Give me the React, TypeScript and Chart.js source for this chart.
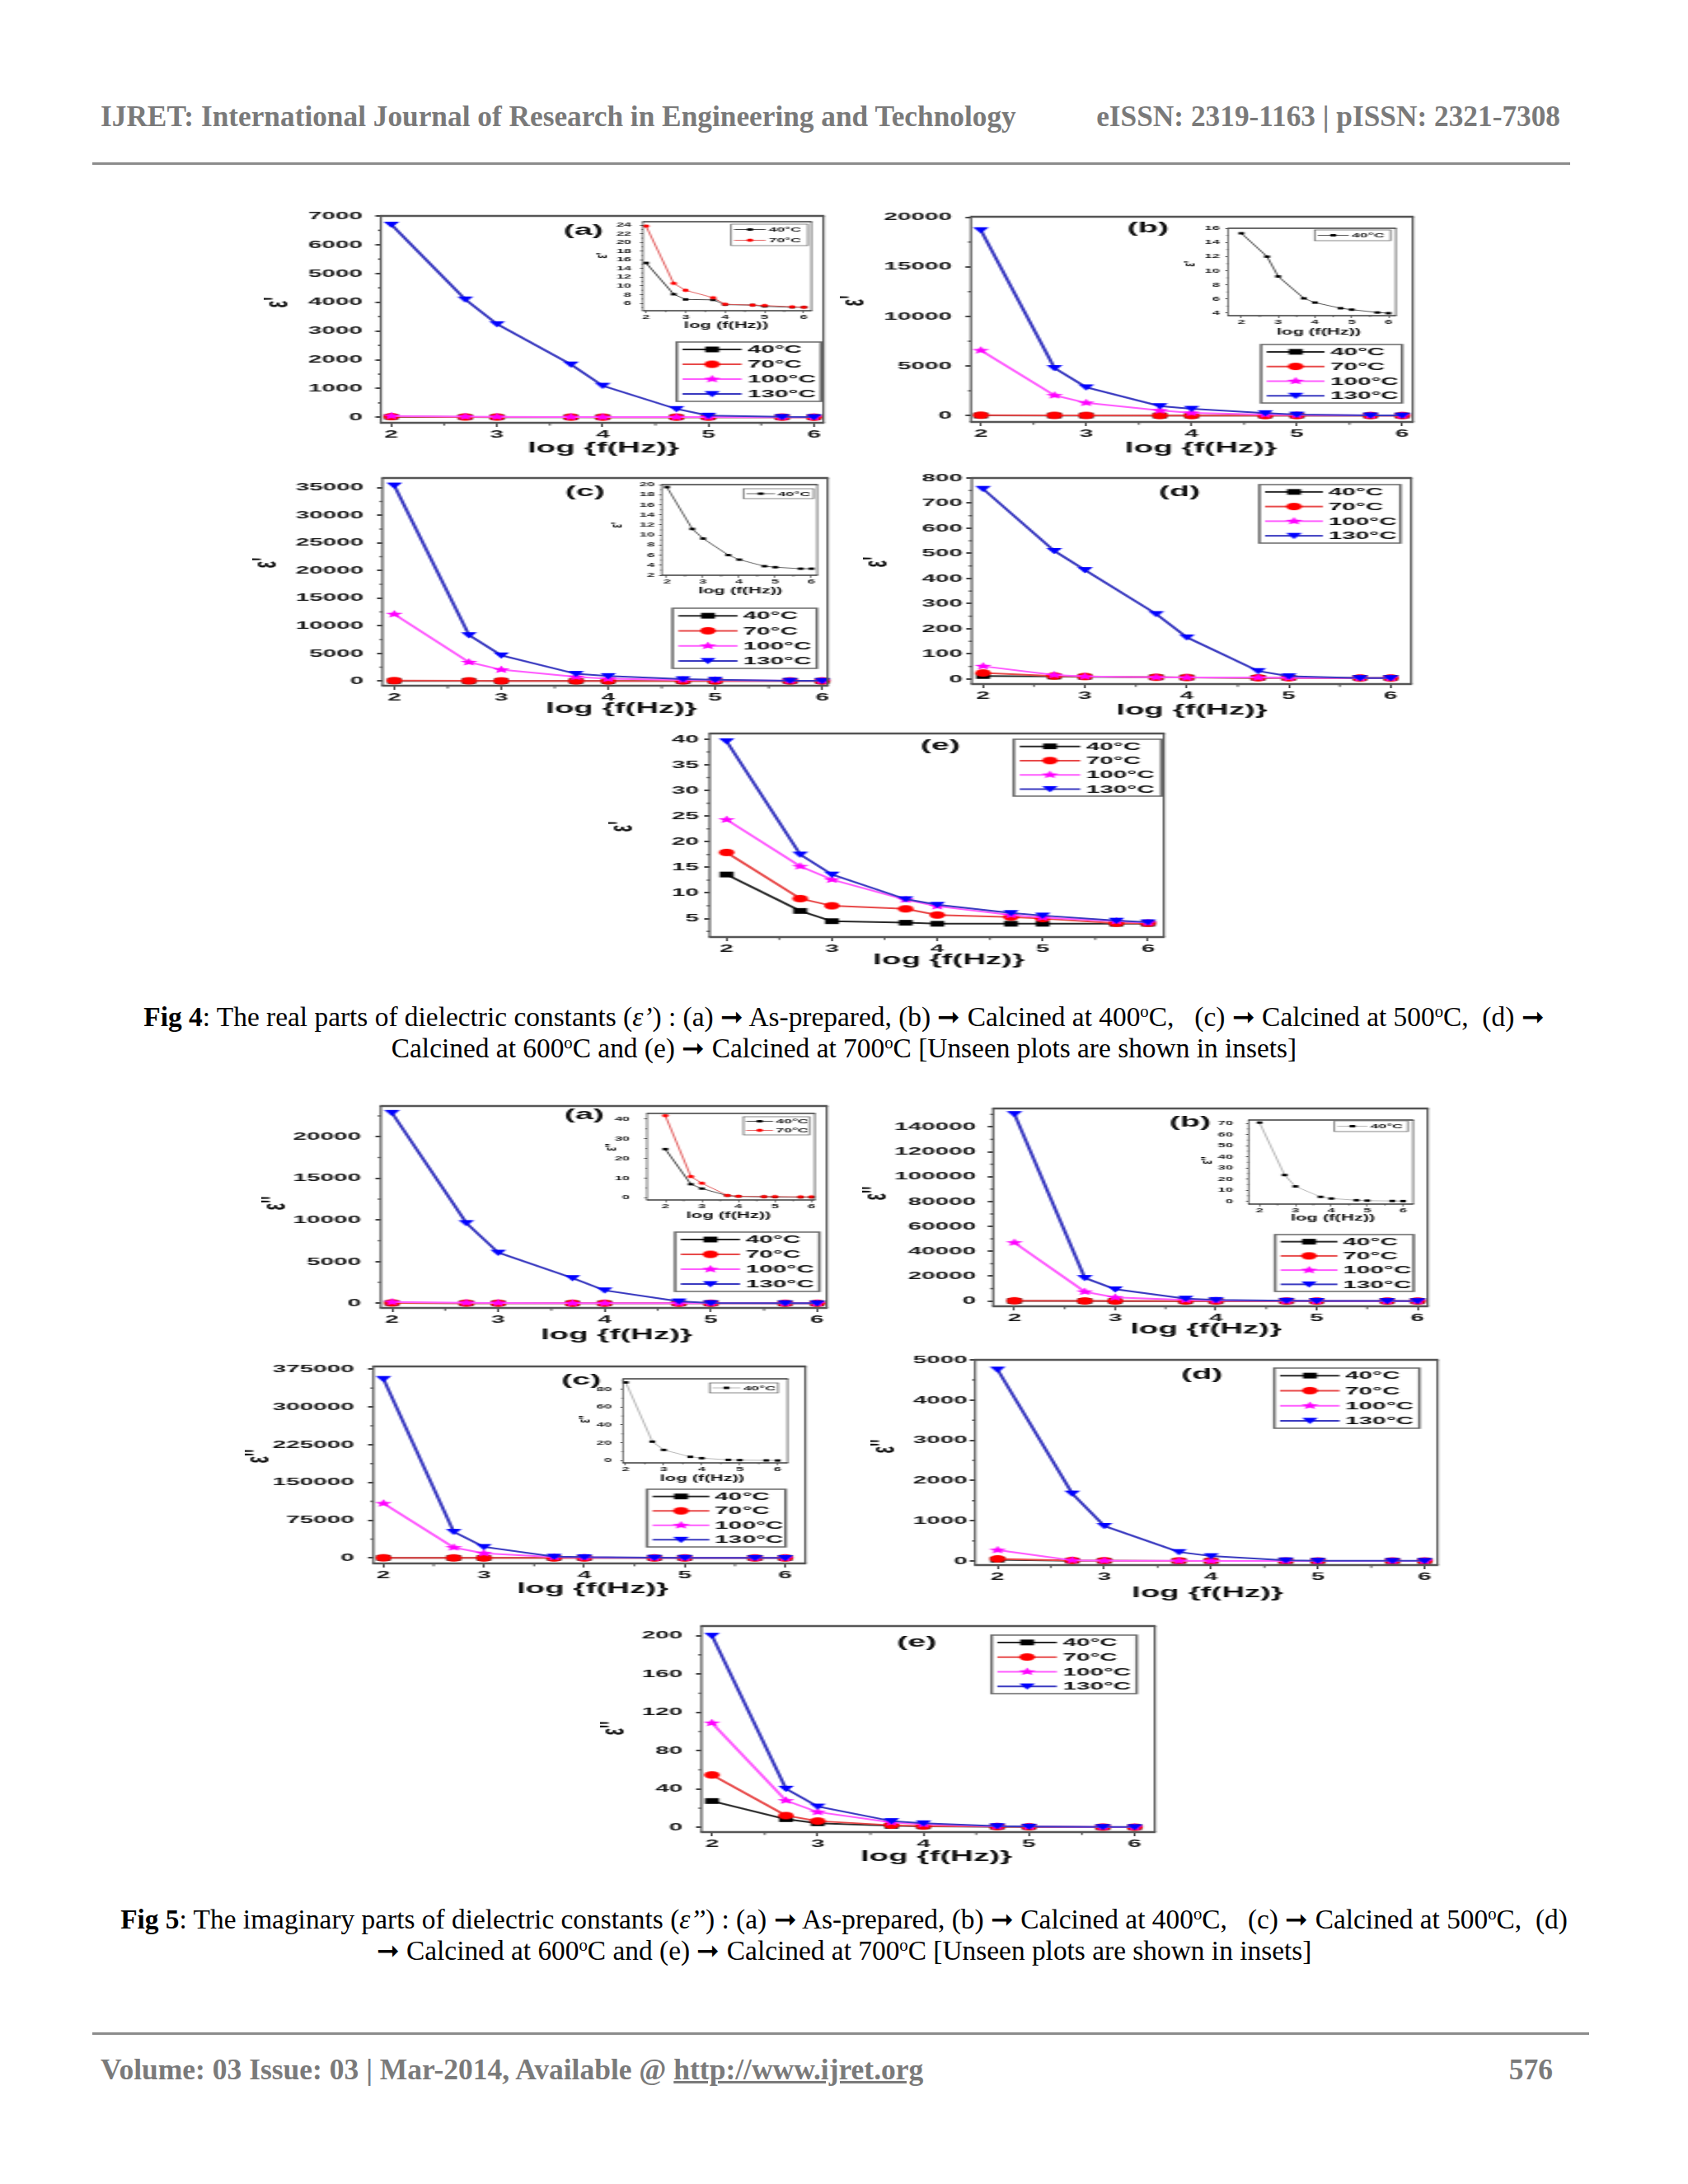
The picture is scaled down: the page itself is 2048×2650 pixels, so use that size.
import React, { useEffect, useRef } from "react";
import { Chart, registerables } from "chart.js";

Chart.register(...registerables);

// horizontal stretch of the figure images on the page
const ST = 2.2;
const FONT = "'Liberation Sans', Arial, sans-serif";
const SERIF = "'Liberation Serif', 'Times New Roman', serif";

// ---------- shared axes ----------
const LOG_F = [2, 2.699, 3, 3.699, 4, 4.699, 5, 5.699, 6];
const TEMPS = ["40°C", "70°C", "100°C", "130°C"];
const X_TICKS = [2, 3, 4, 5, 6];
const X_MINOR = [2.5, 3.5, 4.5, 5.5];

// ---------- Fig 4 : real part ε' ----------
const F4A_40 = [15.3, 8.1, 6.9, 6.8, 5.7, 5.6, 5.3, 5.1, 5.1];
const F4A_70 = [23.8, 10.6, 9.0, 7.3, 5.8, 5.6, 5.5, 5.2, 5.1];
const F4A_100 = [48, 25, 19, 13, 10, 8, 7, 6, 6];
const F4A_130 = [6700, 4100, 3240, 1840, 1100, 290, 60, 15, 10];

const F4B_40 = [15.3, 12.0, 9.2, 6.1, 5.5, 4.7, 4.5, 4.1, 4.0];
const F4B_70 = [45, 28, 20, 12, 9, 7, 6, 5, 5];
const F4B_100 = [6580, 2040, 1290, 520, 280, 110, 60, 20, 10];
const F4B_130 = [18700, 4800, 2860, 960, 690, 250, 110, 25, 15];

const F4C_40 = [19.5, 11.2, 9.3, 6.0, 5.1, 3.8, 3.6, 3.3, 3.3];
const F4C_70 = [70, 35, 25, 14, 11, 8, 7, 6, 6];
const F4C_100 = [12100, 3400, 2050, 750, 400, 200, 150, 40, 20];
const F4C_130 = [35400, 8300, 4650, 1300, 900, 350, 250, 50, 30];

const F4D_40 = [12, 10, 9, 7, 6, 5, 5, 4, 4];
const F4D_70 = [24, 12, 10, 7, 6, 5, 5, 4, 4];
const F4D_100 = [51, 16, 10, 7, 6, 6, 5, 4, 4];
const F4D_130 = [757, 510, 434, 259, 166, 32, 11, 4, 4];

const F4E_40 = [13.6, 6.5, 4.5, 4.2, 4.0, 4.0, 4.0, 4.0, 4.0];
const F4E_70 = [17.9, 8.9, 7.5, 6.9, 5.7, 5.3, 5.0, 4.1, 4.1];
const F4E_100 = [24.3, 15.2, 12.6, 8.7, 7.4, 5.7, 5.2, 4.5, 4.2];
const F4E_130 = [39.6, 17.5, 13.6, 8.8, 7.7, 6.1, 5.6, 4.6, 4.3];

// ---------- Fig 5 : imaginary part ε'' ----------
const F5A_40 = [24.7, 6.9, 4.7, 1.1, 0.7, 0.5, 0.4, 0.3, 0.3];
const F5A_70 = [41.7, 10.8, 7.4, 1.2, 0.8, 0.6, 0.6, 0.5, 0.5];
const F5A_100 = [150, 60, 40, 15, 10, 4, 3, 2, 1];
const F5A_130 = [22860, 9640, 6080, 3030, 1550, 230, 30, 10, 5];

const F5B_40 = [70.7, 23.6, 13.4, 4.0, 2.5, 1.0, 0.6, 0.3, 0.2];
const F5B_70 = [250, 80, 45, 12, 8, 3, 2, 1, 1];
const F5B_100 = [47000, 7500, 2900, 900, 400, 100, 60, 20, 10];
const F5B_130 = [150400, 18600, 9500, 2000, 900, 300, 150, 30, 20];

const F5C_40 = [87.7, 21.3, 12.0, 4.3, 2.8, 0.9, 0.6, 0.3, 0.2];
const F5C_70 = [300, 90, 50, 15, 10, 3, 2, 1, 1];
const F5C_100 = [108400, 20800, 9300, 1600, 800, 200, 100, 20, 10];
const F5C_130 = [355800, 52000, 21900, 2700, 1600, 500, 300, 50, 30];

const F5D_40 = [34, 10, 6, 3, 2, 1, 1, 1, 1];
const F5D_70 = [55, 15, 8, 4, 3, 1, 1, 1, 1];
const F5D_100 = [273, 20, 10, 5, 3, 1, 1, 1, 1];
const F5D_130 = [4760, 1680, 873, 225, 123, 20, 10, 5, 5];

const F5E_40 = [27.5, 8.6, 4.3, 1.7, 1.2, 0.6, 0.5, 0.2, 0.2];
const F5E_70 = [54.7, 12.3, 6.6, 2.3, 1.4, 0.8, 0.6, 0.3, 0.2];
const F5E_100 = [108.9, 28, 16, 5.2, 3.2, 1.2, 0.8, 0.4, 0.3];
const F5E_130 = [200, 40.4, 21.8, 6.6, 4.3, 1.4, 0.9, 0.5, 0.4];

// ---------- tick labels ----------
const F4A_Y_TICKS = [0, 1000, 2000, 3000, 4000, 5000, 6000, 7000];
const F4B_Y_TICKS = [0, 5000, 10000, 15000, 20000];
const F4C_Y_TICKS = [0, 5000, 10000, 15000, 20000, 25000, 30000, 35000];
const F4D_Y_TICKS = [0, 100, 200, 300, 400, 500, 600, 700, 800];
const F4E_Y_TICKS = [5, 10, 15, 20, 25, 30, 35, 40];
const F4A_IN_Y_TICKS = [6, 8, 10, 12, 14, 16, 18, 20, 22, 24];
const F4B_IN_Y_TICKS = [4, 6, 8, 10, 12, 14, 16];
const F4C_IN_Y_TICKS = [2, 4, 6, 8, 10, 12, 14, 16, 18, 20];
const F5A_Y_TICKS = [0, 5000, 10000, 15000, 20000];
const F5B_Y_TICKS = [0, 20000, 40000, 60000, 80000, 100000, 120000, 140000];
const F5C_Y_TICKS = [0, 75000, 150000, 225000, 300000, 375000];
const F5D_Y_TICKS = [0, 1000, 2000, 3000, 4000, 5000];
const F5E_Y_TICKS = [0, 40, 80, 120, 160, 200];
const F5A_IN_Y_TICKS = [0, 10, 20, 30, 40];
const F5B_IN_Y_TICKS = [0, 10, 20, 30, 40, 50, 60, 70];
const F5C_IN_Y_TICKS = [0, 20, 40, 60, 80];

// ---------- styling ----------
const MK = { k: "#000000", r: "#ff0000", m: "#ff00ff", b: "#0000ff" };
const LN = { k: "#2a2a2a", r: "#e84a4a", m: "#ff5cff", b: "#3a3ac0" };

type Series = { label: string; data: number[]; kind: string; color: string; line: string };
type Box = [number, number, number, number];
type PanelDef = {
  id: string;
  inset?: boolean;
  box: Box;
  x: [number, number];
  y: [number, number];
  yTicks: number[];
  series: Series[];
  legend?: Box;
  label?: [string, number, number];
  yTitle: [string, number, number];
  xTitle: [string, number, number];
  yGap: number;
};

function four(d40: number[], d70: number[], d100: number[], d130: number[]): Series[] {
  return [
    { label: TEMPS[0], data: d40, kind: "rect", color: MK.k, line: LN.k },
    { label: TEMPS[1], data: d70, kind: "circle", color: MK.r, line: LN.r },
    { label: TEMPS[2], data: d100, kind: "star", color: MK.m, line: LN.m },
    { label: TEMPS[3], data: d130, kind: "tri", color: MK.b, line: LN.b },
  ];
}
function insetOne(d40: number[], line: string): Series[] {
  return [{ label: TEMPS[0], data: d40, kind: "rect", color: MK.k, line }];
}
function insetTwo(d40: number[], d70: number[]): Series[] {
  return [
    { label: TEMPS[0], data: d40, kind: "rect", color: MK.k, line: "#333333" },
    { label: TEMPS[1], data: d70, kind: "circle", color: MK.r, line: "#e05050" },
  ];
}

const EPS1 = "ε'";
const EPS2 = "ε''";
const XT = "log {f(Hz)}";
const XTI = "log (f(Hz))";

const MAIN_PANELS: PanelDef[] = [
  { id: "f4a", box: [462, 262, 999, 513], x: [1.9, 6.09], y: [-190, 7000], yTicks: F4A_Y_TICKS,
    series: four(F4A_40, F4A_70, F4A_100, F4A_130), legend: [821, 415, 996, 487],
    label: ["(a)", 708, 280], yTitle: [EPS1, 338, 367], xTitle: [XT, 732, 544], yGap: 22 },
  { id: "f4b", box: [1178, 263, 1714, 512], x: [1.906, 6.1], y: [-640, 20050], yTicks: F4B_Y_TICKS,
    series: four(F4B_40, F4B_70, F4B_100, F4B_130), legend: [1530, 418, 1701, 489],
    label: ["(b)", 1393, 277], yTitle: [EPS1, 1037, 365], xTitle: [XT, 1457, 544], yGap: 23 },
  { id: "f4c", box: [464, 580, 1004, 832], x: [1.89, 6.05], y: [-850, 36750], yTicks: F4C_Y_TICKS,
    series: four(F4C_40, F4C_70, F4C_100, F4C_130), legend: [816, 738, 991, 811],
    label: ["(c)", 710, 597], yTitle: [EPS1, 324, 683], xTitle: [XT, 754, 860], yGap: 23 },
  { id: "f4d", box: [1179, 580, 1712, 830], x: [1.89, 6.2], y: [-20, 800], yTicks: F4D_Y_TICKS,
    series: four(F4D_40, F4D_70, F4D_100, F4D_130), legend: [1528, 588, 1699, 659],
    label: ["(d)", 1431, 597], yTitle: [EPS1, 1065, 682], xTitle: [XT, 1446, 862], yGap: 11 },
  { id: "f4e", box: [861, 890, 1412, 1137], x: [1.84, 6.15], y: [1.4, 41.1], yTicks: F4E_Y_TICKS,
    series: four(F4E_40, F4E_70, F4E_100, F4E_130), legend: [1230, 897, 1409, 966],
    label: ["(e)", 1141, 905], yTitle: [EPS1, 756, 1003], xTitle: [XT, 1151, 1165], yGap: 13 },
  { id: "f5a", box: [462, 1342, 1003, 1587], x: [1.895, 6.09], y: [-560, 23680], yTicks: F5A_Y_TICKS,
    series: four(F5A_40, F5A_70, F5A_100, F5A_130), legend: [819, 1495, 994, 1567],
    label: ["(a)", 709, 1353], yTitle: [EPS2, 335, 1460], xTitle: [XT, 748, 1620], yGap: 24 },
  { id: "f5b", box: [1205, 1345, 1732, 1585], x: [1.79, 6.1], y: [-4200, 154800], yTicks: F5B_Y_TICKS,
    series: four(F5B_40, F5B_70, F5B_100, F5B_130), legend: [1547, 1498, 1715, 1567],
    label: ["(b)", 1444, 1362], yTitle: [EPS2, 1064, 1448], xTitle: [XT, 1463, 1613], yGap: 21 },
  { id: "f5c", box: [453, 1658, 977, 1897], x: [1.9, 6.2], y: [-10900, 380500], yTicks: F5C_Y_TICKS,
    series: four(F5C_40, F5C_70, F5C_100, F5C_130), legend: [785, 1807, 953, 1877],
    label: ["(c)", 705, 1675], yTitle: [EPS2, 315, 1767], xTitle: [XT, 719, 1928], yGap: 23 },
  { id: "f5d", box: [1183, 1650, 1744, 1899], x: [1.79, 6.12], y: [-100, 5000], yTicks: F5D_Y_TICKS,
    series: four(F5D_40, F5D_70, F5D_100, F5D_130), legend: [1546, 1660, 1722, 1733],
    label: ["(d)", 1458, 1668], yTitle: [EPS2, 1074, 1755], xTitle: [XT, 1465, 1933], yGap: 9 },
  { id: "f5e", box: [851, 1973, 1401, 2223], x: [1.9, 6.19], y: [-4.9, 210], yTicks: F5E_Y_TICKS,
    series: four(F5E_40, F5E_70, F5E_100, F5E_130), legend: [1203, 1984, 1379, 2055],
    label: ["(e)", 1112, 1993], yTitle: [EPS2, 746, 2097], xTitle: [XT, 1136, 2253], yGap: 23 },
];

const INSET_PANELS: PanelDef[] = [
  { id: "f4a-in", inset: true, box: [780, 269, 985, 377], x: [1.92, 6.19], y: [4.3, 24.8], yTicks: F4A_IN_Y_TICKS,
    series: insetTwo(F4A_40, F4A_70), legend: [887, 272, 980, 298],
    yTitle: [EPS1, 731, 310], xTitle: [XTI, 881, 395], yGap: 14 },
  { id: "f4b-in", inset: true, box: [1490, 277, 1694, 383], x: [1.64, 6.2], y: [3.65, 16.0], yTicks: F4B_IN_Y_TICKS,
    series: insetOne(F4B_40, "#444444"), legend: [1595, 279, 1687, 292],
    yTitle: [EPS1, 1444, 320], xTitle: [XTI, 1600, 403], yGap: 10 },
  { id: "f4c-in", inset: true, box: [803, 588, 992, 698], x: [1.86, 6.16], y: [2, 20], yTicks: F4C_IN_Y_TICKS,
    series: insetOne(F4C_40, "#555555"), legend: [902, 593, 987, 605],
    yTitle: [EPS1, 749, 637], xTitle: [XTI, 898, 717], yGap: 9 },
  { id: "f5a-in", inset: true, box: [785, 1351, 989, 1456], x: [1.5, 6.09], y: [-1.1, 42.8], yTicks: F5A_IN_Y_TICKS,
    series: insetTwo(F5A_40, F5A_70), legend: [902, 1355, 982, 1377],
    yTitle: [EPS2, 742, 1392], xTitle: [XTI, 884, 1475], yGap: 21 },
  { id: "f5b-in", inset: true, box: [1515, 1359, 1715, 1461], x: [1.7, 6.28], y: [-2.5, 73], yTicks: F5B_IN_Y_TICKS,
    series: insetOne(F5B_40, "#b0b0b0"), legend: [1619, 1360, 1708, 1373],
    yTitle: [EPS2, 1465, 1408], xTitle: [XTI, 1617, 1478], yGap: 19 },
  { id: "f5c-in", inset: true, box: [756, 1673, 956, 1775], x: [1.93, 6.26], y: [-2.5, 91.7], yTicks: F5C_IN_Y_TICKS,
    series: insetOne(F5C_40, "#b0b0b0"), legend: [861, 1678, 944, 1690],
    yTitle: [EPS2, 710, 1722], xTitle: [XTI, 852, 1794], yGap: 14 },
];

function minorTicks(major: number[], range: [number, number]) {
  const step = major[1] - major[0];
  const out: number[] = [];
  for (let v = major[0] - step / 2; v <= range[1] + 1e-9; v += step) {
    if (v >= range[0] - 1e-9) out.push(v);
  }
  return out;
}

function geom(p: PanelDef) {
  const [l, t, r, b] = p.box;
  const cl = Math.min(p.yTitle[1] - (p.inset ? 10 : 18), l - 30);
  const ct = t - (p.inset ? 8 : 14);
  const cr = r + (p.inset ? 8 : 14);
  const cb = Math.max(p.xTitle[2] + (p.inset ? 10 : 16), b + 20);
  const cw = cr - cl;
  const ch = cb - ct;
  const iw = Math.round(cw / ST);
  const sx = cw / iw;
  return { cl, ct, cr, cb, cw, ch, iw, ih: ch, sx };
}

function makeMarker(kind: string, color: string, s: number) {
  const c = document.createElement("canvas");
  const W = Math.ceil(s * 2 + 3);
  c.width = W;
  c.height = W;
  const g = c.getContext("2d")!;
  g.fillStyle = color;
  const cx = W / 2;
  const cy = W / 2;
  g.beginPath();
  if (kind === "rect") {
    g.rect(cx - s * 0.8, cy - s * 0.72, s * 1.6, s * 1.44);
  } else if (kind === "circle") {
    g.ellipse(cx, cy, s * 0.9, s * 0.95, 0, 0, Math.PI * 2);
  } else if (kind === "tri") {
    g.moveTo(cx - s * 0.9, cy - s * 0.72);
    g.lineTo(cx + s * 0.9, cy - s * 0.72);
    g.lineTo(cx, cy + s * 0.85);
    g.closePath();
  } else {
    for (let i = 0; i < 10; i++) {
      const rr = i % 2 === 0 ? s * 1.05 : s * 0.45;
      const a = -Math.PI / 2 + (i * Math.PI) / 5;
      const px = cx + rr * Math.cos(a);
      const py = cy + rr * Math.sin(a);
      if (i === 0) g.moveTo(px, py);
      else g.lineTo(px, py);
    }
    g.closePath();
  }
  g.fill();
  return c;
}

function Panel({ p }: { p: PanelDef }) {
  const ref = useRef<HTMLCanvasElement>(null);
  const g = geom(p);
  useEffect(() => {
    const canvas = ref.current;
    if (!canvas) return;
    const [l, t, r, b] = p.box;
    const msz = p.inset ? 2 : 4.8;
    const markers = p.series.map((s) => makeMarker(s.kind, s.color, msz));
    const n = p.series.length;
    const yMinor = minorTicks(p.yTicks, p.y);
    const X = (v: number) => (v - g.cl) / g.sx;
    const Y = (v: number) => v - g.ct;
    const tickFont = { family: FONT, size: p.inset ? 7.5 : 13.5, weight: "bold" as const };
    const yTL = p.inset ? 1.5 : 3;
    const xTL = p.inset ? 3 : 5;

    const deco = {
      id: "deco" + p.id,
      afterDraw(chart: any) {
        const ctx = chart.ctx;
        const a = chart.chartArea;
        const ys = chart.scales.y;
        const xs = chart.scales.x;
        ctx.save();
        // minor ticks
        ctx.strokeStyle = "#444";
        ctx.lineWidth = p.inset ? 0.8 : 1.6;
        for (const v of yMinor) {
          const py = ys.getPixelForValue(v);
          ctx.beginPath();
          ctx.moveTo(a.left, py);
          ctx.lineTo(a.left - (p.inset ? 0.9 : 1.6), py);
          ctx.stroke();
        }
        ctx.lineWidth = p.inset ? 0.5 : 0.9;
        for (const v of X_MINOR) {
          const px = xs.getPixelForValue(v);
          ctx.beginPath();
          ctx.moveTo(px, a.bottom);
          ctx.lineTo(px, a.bottom + (p.inset ? 2 : 3.5));
          ctx.stroke();
        }
        // frame
        ctx.strokeStyle = p.inset ? "#3c3c3c" : "#555555";
        const hw = p.inset ? 1.3 : 2.3;
        const vw = (p.inset ? 1.5 : 2.6) / g.sx;
        ctx.lineWidth = hw;
        ctx.beginPath();
        ctx.moveTo(a.left - vw / 2, a.top);
        ctx.lineTo(a.right + vw / 2, a.top);
        ctx.moveTo(a.left - vw / 2, a.bottom);
        ctx.lineTo(a.right + vw / 2, a.bottom);
        ctx.stroke();
        ctx.lineWidth = vw;
        ctx.beginPath();
        ctx.moveTo(a.left, a.top);
        ctx.lineTo(a.left, a.bottom);
        ctx.moveTo(a.right, a.top);
        ctx.lineTo(a.right, a.bottom);
        ctx.stroke();
        // legend
        if (p.legend) {
          const L = X(p.legend[0]);
          const T = Y(p.legend[1]);
          const R = X(p.legend[2]);
          const B = Y(p.legend[3]);
          const w = R - L;
          const rh = (B - T) / n;
          ctx.fillStyle = "#ffffff";
          ctx.fillRect(L, T, w, B - T);
          ctx.strokeStyle = "#6a6a6a";
          ctx.lineWidth = p.inset ? 0.8 : 1.5;
          ctx.strokeRect(L, T, w, B - T);
          p.series.forEach((s, i) => {
            const cy = T + rh * (i + 0.5);
            ctx.strokeStyle = s.line;
            ctx.lineWidth = p.inset ? 0.9 : 2;
            ctx.beginPath();
            ctx.moveTo(L + w * 0.04, cy);
            ctx.lineTo(L + w * 0.45, cy);
            ctx.stroke();
            const m = markers[i];
            ctx.drawImage(m, L + w * 0.245 - m.width / 2, cy - m.height / 2);
            ctx.fillStyle = "#111111";
            ctx.font = `bold ${p.inset ? 8 : 13.5}px ${FONT}`;
            ctx.textAlign = "left";
            ctx.textBaseline = "middle";
            ctx.fillText(s.label, L + w * 0.49, cy + 0.5);
          });
        }
        ctx.fillStyle = "#111111";
        // panel label
        if (p.label) {
          ctx.font = `bold 18px ${FONT}`;
          ctx.textAlign = "center";
          ctx.textBaseline = "middle";
          ctx.fillText(p.label[0], X(p.label[1]), Y(p.label[2]));
        }
        // x title
        ctx.font = `bold ${p.inset ? 10 : 17.5}px ${FONT}`;
        ctx.textAlign = "center";
        ctx.textBaseline = "middle";
        ctx.fillText(p.xTitle[0], X(p.xTitle[1]), Y(p.xTitle[2]));
        // y title
        ctx.save();
        ctx.translate(X(p.yTitle[1]), Y(p.yTitle[2]));
        ctx.rotate(-Math.PI / 2);
        ctx.font = `bold ${p.inset ? 9.5 : 18}px ${FONT}`;
        ctx.textAlign = "center";
        ctx.textBaseline = "middle";
        ctx.fillText(p.yTitle[0], 0, 0);
        ctx.restore();
        ctx.restore();
      },
    };

    const chart = new Chart(canvas, {
      type: "line",
      data: {
        datasets: p.series.map((s, i) => ({
          label: s.label,
          data: LOG_F.map((x, j) => ({ x, y: s.data[j] })),
          borderColor: s.line,
          backgroundColor: s.color,
          borderWidth: p.inset ? 0.9 : 2,
          pointStyle: markers[i] as any,
          pointRadius: 3,
          pointHoverRadius: 3,
          order: n - i,
          clip: false as any,
          tension: 0,
          fill: false,
        })),
      },
      options: {
        responsive: false,
        animation: false,
        devicePixelRatio: 1,
        events: [],
        layout: { padding: { left: 0, top: t - g.ct, right: (g.cr - r) / g.sx, bottom: 0 } },
        plugins: { legend: { display: false }, tooltip: { enabled: false } },
        scales: {
          x: {
            type: "linear",
            position: "bottom",
            bounds: "data",
            min: p.x[0],
            max: p.x[1],
            afterBuildTicks: (s: any) => {
              s.ticks = X_TICKS.map((v) => ({ value: v }));
            },
            afterFit: (s: any) => {
              s.height = g.cb - b;
              s.paddingLeft = 0;
              s.paddingRight = 0;
            },
            ticks: {
              font: tickFont,
              color: "#1a1a1a",
              padding: p.inset ? 0 : 1,
              maxRotation: 0,
              minRotation: 0,
              autoSkip: false,
              callback: (v: any) => String(v),
            },
            grid: { drawOnChartArea: false, drawTicks: true, tickLength: xTL, color: "#444", lineWidth: p.inset ? 0.6 : 1 },
            border: { display: false },
          },
          y: {
            type: "linear",
            position: "left",
            bounds: "data",
            min: p.y[0],
            max: p.y[1],
            afterBuildTicks: (s: any) => {
              s.ticks = p.yTicks.map((v) => ({ value: v }));
            },
            afterFit: (s: any) => {
              s.width = (l - g.cl) / g.sx;
              s.paddingTop = 0;
              s.paddingBottom = 0;
            },
            ticks: {
              font: tickFont,
              color: "#1a1a1a",
              padding: Math.max(0, p.yGap / g.sx - yTL),
              autoSkip: false,
              callback: (v: any) => String(v),
            },
            grid: { drawOnChartArea: false, drawTicks: true, tickLength: yTL, color: "#444", lineWidth: p.inset ? 1 : 2 },
            border: { display: false },
          },
        },
      } as any,
      plugins: [deco],
    });
    return () => chart.destroy();
  }, []);
  return (
    <canvas
      ref={ref}
      width={g.iw}
      height={g.ih}
      style={{ position: "absolute", left: g.cl, top: g.ct, width: g.cw, height: g.ch }}
    />
  );
}

const supStyle: React.CSSProperties = { fontSize: "0.62em", position: "relative", top: "-0.55em" };
const Sup = () => <span style={supStyle}>o</span>;
const ARROW = "➞";

function TextLine({ y, size, children, style }: any) {
  return (
    <div
      style={{
        position: "absolute",
        left: 0,
        width: 2048,
        top: y - 20,
        height: 40,
        lineHeight: "40px",
        textAlign: "center",
        fontFamily: SERIF,
        fontSize: size,
        whiteSpace: "pre",
        color: "#000",
        ...style,
      }}
    >
      {children}
    </div>
  );
}

export default function App() {
  const headStyle: React.CSSProperties = {
    position: "absolute",
    top: 122,
    height: 40,
    lineHeight: "40px",
    fontFamily: SERIF,
    fontWeight: "bold",
    fontSize: 35.3,
    color: "#7a7a7a",
    whiteSpace: "nowrap",
  };
  return (
    <div style={{ position: "absolute", left: 0, top: 0, width: 2048, height: 2650, background: "#ffffff", overflow: "hidden" }}>
      <div style={{ ...headStyle, left: 122 }}>IJRET: International Journal of Research in Engineering and Technology</div>
      <div style={{ ...headStyle, right: 155 }}>eISSN: 2319-1163 | pISSN: 2321-7308</div>
      <div style={{ position: "absolute", left: 112, top: 197, width: 1793, height: 3, background: "#8c8c8c" }} />

      {MAIN_PANELS.map((p) => (
        <Panel key={p.id} p={p} />
      ))}
      {INSET_PANELS.map((p) => (
        <Panel key={p.id} p={p} />
      ))}

      <TextLine y={1234} size={33.4}>
        <b>Fig 4</b>: The real parts of dielectric constants (<i>ε’</i>) : (a) {ARROW} As-prepared, (b) {ARROW} Calcined at 400<Sup />C,   (c) {ARROW} Calcined at 500<Sup />C,  (d) {ARROW}
      </TextLine>
      <TextLine y={1272} size={33.4}>
        Calcined at 600<Sup />C and (e) {ARROW} Calcined at 700<Sup />C [Unseen plots are shown in insets]
      </TextLine>
      <TextLine y={2329} size={33.4}>
        <b>Fig 5</b>: The imaginary parts of dielectric constants (<i>ε’’</i>) : (a) {ARROW} As-prepared, (b) {ARROW} Calcined at 400<Sup />C,   (c) {ARROW} Calcined at 500<Sup />C,  (d)
      </TextLine>
      <TextLine y={2367} size={33.4}>
        {ARROW} Calcined at 600<Sup />C and (e) {ARROW} Calcined at 700<Sup />C [Unseen plots are shown in insets]
      </TextLine>

      <div style={{ position: "absolute", left: 112, top: 2466, width: 1816, height: 3, background: "#8c8c8c" }} />
      <div style={{ ...headStyle, top: 2491, left: 122, fontSize: 35.5 }}>
        Volume: 03 Issue: 03 | Mar-2014, Available @ <u>http://www.ijret.org</u>
      </div>
      <div style={{ ...headStyle, top: 2491, right: 164, fontSize: 35.5 }}>576</div>
    </div>
  );
}
